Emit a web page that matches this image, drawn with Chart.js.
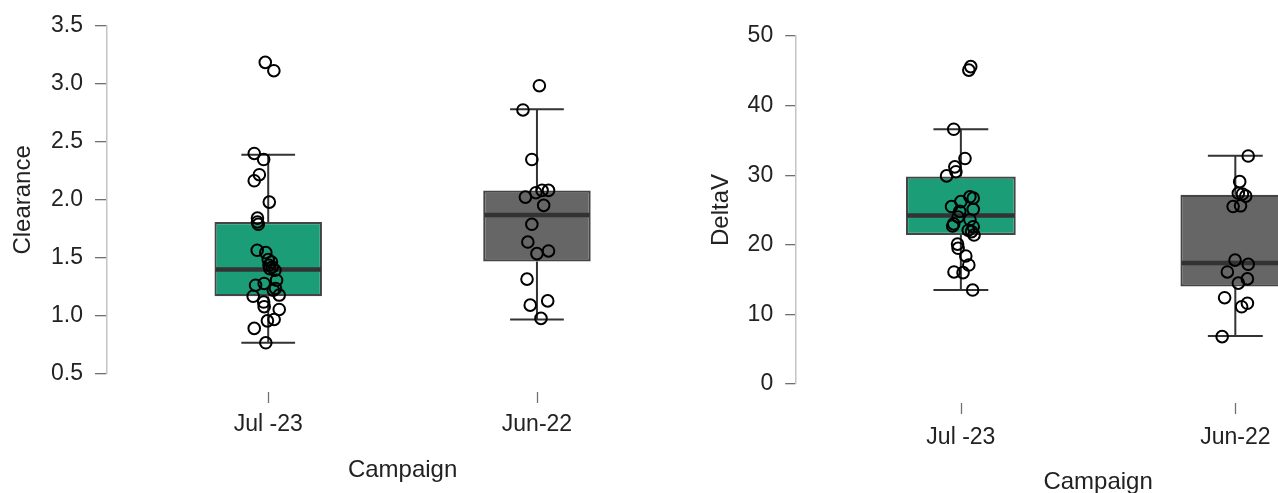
<!DOCTYPE html>
<html>
<head>
<meta charset="utf-8">
<script src="https://cdn.jsdelivr.net/npm/chart.js@4/dist/chart.umd.min.js"></script>
<style>
  html, body { margin: 0; padding: 0; background: #fff; width: 1278px; height: 493px; overflow: hidden; }
  .panel { position: absolute; top: 0; }
  #leftPanel { left: 0; }
  #rightPanel { left: 700px; }
</style>
</head>
<body>
<div class="panel" id="leftPanel"><canvas id="clearanceChart" width="706" height="493"></canvas></div>
<div class="panel" id="rightPanel"><canvas id="deltaVChart" width="714" height="500"></canvas></div>
<script>
// Campaign groups
const categories = ['Jul -23', 'Jun-22'];
const boxFill = ['#1b9e77', '#666666'];

// Clearance: box-plot summary per campaign
const clearanceLow    = [0.77, 0.97];
const clearanceQ1     = [1.17, 1.47];
const clearanceMedian = [1.40, 1.87];
const clearanceQ3     = [1.81, 2.08];
const clearanceHigh   = [2.39, 2.78];

// Clearance: individual observations and their horizontal jitter
const clearanceJul = [3.185, 3.113, 2.40, 2.348, 2.217, 2.165, 1.981, 1.843, 1.81, 1.79, 1.566, 1.546,
  1.486, 1.465, 1.437, 1.422, 1.408, 1.394, 1.308, 1.265, 1.28, 1.237, 1.222, 1.17, 1.18, 1.12, 1.08,
  1.056, 0.97, 0.958, 0.893, 0.769];
const clearanceJulJitter = [-0.011, 0.021, -0.052, -0.017, -0.033, -0.052, 0.004, -0.04, -0.04, -0.037, -0.041, -0.009,
  0, 0.012, 0.003, 0.015, 0.006, 0.025, 0.031, -0.047, -0.015, 0.027, 0.019, -0.056, 0.041, -0.017, -0.015,
  0.041, 0.022, -0.003, -0.052, -0.009];
const clearanceJun = [2.984, 2.775, 2.348, 2.062, 2.082, 2.082, 2.024, 1.953, 1.79, 1.637, 1.56, 1.537,
  1.317, 1.13, 1.093, 0.979];
const clearanceJunJitter = [0.009, -0.052, -0.019, -0.004, 0.019, 0.043, -0.043, 0.025, -0.019, -0.034, 0.043, 0,
  -0.037, 0.040, -0.025, 0.015];

// DeltaV: box-plot summary per campaign
const deltaVLow    = [13.5, 6.9];
const deltaVQ1     = [21.4, 14.0];
const deltaVMedian = [24.2, 17.4];
const deltaVQ3     = [29.8, 27.2];
const deltaVHigh   = [36.6, 32.8];

// DeltaV: individual observations and their horizontal jitter
const deltaVJul = [45.6, 45.1, 36.6, 32.4, 31.2, 30.5, 29.9, 26.9, 26.7, 26.2, 25.5, 25.1, 24.8, 24.0,
  23.6, 23.0, 22.7, 22.6, 22.1, 21.9, 21.4, 20.1, 19.5, 18.4, 17.1, 16.1, 16.0, 13.5];
const deltaVJulJitter = [0.036, 0.029, -0.026, 0.015, -0.022, -0.018, -0.052, 0.033, 0.045, 0, -0.034, 0.045, -0.004, -0.01,
  0.033, -0.026, -0.03, 0.045, 0.027, 0.039, 0.048, -0.012, -0.01, 0.018, 0.029, -0.025, 0.008, 0.043];
const deltaVJun = [32.76, 29.07, 27.4, 27.3, 27.0, 25.5, 25.6, 17.8, 17.2, 16.1, 15.1, 14.5, 12.4, 11.6, 11.1, 6.8];
const deltaVJunJitter = [0.047, 0.016, 0.011, 0.026, 0.038, -0.008, 0.019, -0.001, 0.047, -0.029, 0.044, 0.011, -0.039, 0.044, 0.023, -0.048];

// Axis ticks
const clearanceTicks = [0.5, 1.0, 1.5, 2.0, 2.5, 3.0, 3.5];
const deltaVTicks = [0, 10, 20, 30, 40, 50];

const FONT = 'Liberation Sans, Arial, Helvetica, sans-serif';
const TEXT = '#222222';
const AXIS_LINE = '#c4c4c4';
const TICK_MARK = '#707070';
const INK = '#333333';
Chart.defaults.font.family = FONT;
Chart.defaults.color = TEXT;

// Whiskers, caps, median lines and the x tick marks of each box plot
const boxParts = {
  id: 'boxParts',
  beforeDatasetsDraw(chart, args, opts) {
    const { x, y } = chart.scales;
    const ctx = chart.ctx;
    ctx.save();
    ctx.strokeStyle = INK;
    ctx.lineWidth = 2;
    opts.low.forEach((lo, i) => {
      const cx = x.getPixelForValue(i + 1);
      const half = x.getPixelForValue(i + 1 + opts.capHalf) - cx;
      ctx.beginPath();
      ctx.moveTo(cx, y.getPixelForValue(lo));
      ctx.lineTo(cx, y.getPixelForValue(opts.q1[i]));
      ctx.moveTo(cx, y.getPixelForValue(opts.q3[i]));
      ctx.lineTo(cx, y.getPixelForValue(opts.high[i]));
      [lo, opts.high[i]].forEach(v => {
        const py = y.getPixelForValue(v);
        ctx.moveTo(cx - half, py);
        ctx.lineTo(cx + half, py);
      });
      ctx.stroke();
    });
    ctx.restore();
  },
  afterDatasetDraw(chart, args, opts) {
    if (args.meta.type !== 'bar') return;
    const { y } = chart.scales;
    const ctx = chart.ctx;
    ctx.save();
    ctx.strokeStyle = INK;
    ctx.lineWidth = 4.5;
    opts.median.forEach((m, i) => {
      const el = args.meta.data[i];
      const py = y.getPixelForValue(m);
      ctx.beginPath();
      ctx.moveTo(el.x - el.width / 2 + 1, py);
      ctx.lineTo(el.x + el.width / 2 - 1, py);
      ctx.stroke();
    });
    ctx.restore();
  },
  afterDraw(chart, args, opts) {
    const { x } = chart.scales;
    const ctx = chart.ctx;
    const bottom = chart.chartArea.bottom;
    ctx.save();
    ctx.strokeStyle = TICK_MARK;
    ctx.lineWidth = 1.3;
    categories.forEach((c, i) => {
      const px = Math.round(x.getPixelForValue(i + 1)) + 0.5;
      ctx.beginPath();
      ctx.moveTo(px, bottom + opts.tickGap);
      ctx.lineTo(px, bottom + opts.tickGap + opts.tickLen);
      ctx.stroke();
    });
    ctx.restore();
  }
};

function jittered(groups, jitters) {
  const pts = [];
  groups.forEach((vals, i) => vals.forEach((v, j) => pts.push({ x: i + 1 + jitters[i][j], y: v })));
  return pts;
}

function boxChart(id, s) {
  return new Chart(document.getElementById(id), {
    type: 'bar',
    data: {
      datasets: [
        {
          type: 'scatter',
          data: jittered(s.points, s.jitter),
          order: 0,
          pointStyle: 'circle',
          pointRadius: 5.8,
          pointHoverRadius: 5.8,
          borderColor: '#000',
          borderWidth: 2,
          backgroundColor: 'rgba(0,0,0,0)'
        },
        {
          type: 'bar',
          data: categories.map((c, i) => ({ x: i + 1, y: [s.q1[i], s.q3[i]] })),
          order: 1,
          backgroundColor: boxFill,
          borderColor: '#444444',
          borderWidth: 2.2,
          borderSkipped: false,
          barPercentage: 0.4,
          categoryPercentage: 1
        }
      ]
    },
    options: {
      responsive: false,
      animation: false,
      events: [],
      layout: { padding: s.padding },
      plugins: {
        legend: { display: false },
        tooltip: { enabled: false },
        boxParts: {
          low: s.low, q1: s.q1, median: s.median, q3: s.q3, high: s.high,
          capHalf: 0.1, tickGap: s.tickGap, tickLen: 11
        }
      },
      scales: {
        x: {
          type: 'linear',
          offset: false,
          min: 0.4,
          max: 2.6,
          afterBuildTicks: ax => { ax.ticks = categories.map((c, i) => ({ value: i + 1 })); },
          grid: { display: false, tickLength: s.xTickSpace },
          border: { display: false },
          ticks: {
            padding: 4,
            autoSkip: false,
            maxRotation: 0,
            font: { size: 23 },
            color: TEXT,
            callback: v => categories[Math.round(v) - 1]
          },
          title: {
            display: true,
            text: 'Campaign',
            font: { size: 24 },
            color: TEXT,
            padding: { top: s.xTitlePad, bottom: 0 }
          }
        },
        y: {
          type: 'linear',
          min: s.yTicks[0],
          max: s.yTicks[s.yTicks.length - 1],
          afterBuildTicks: ax => { ax.ticks = s.yTicks.map(v => ({ value: v })); },
          grid: { drawOnChartArea: false, drawTicks: true, tickLength: s.yTickLen, tickColor: TICK_MARK, color: AXIS_LINE, lineWidth: 1.3 },
          border: { display: true, color: AXIS_LINE, width: 1.5 },
          ticks: {
            padding: 12,
            font: { size: 23 },
            color: TEXT,
            callback: s.yFormat
          },
          title: {
            display: true,
            text: s.yTitle,
            font: { size: 24 },
            color: TEXT,
            padding: { top: 0, bottom: s.yTitlePad }
          }
        }
      }
    },
    plugins: [boxParts]
  });
}

boxChart('clearanceChart', {
  points: [clearanceJul, clearanceJun],
  jitter: [clearanceJulJitter, clearanceJunJitter],
  low: clearanceLow, q1: clearanceQ1, median: clearanceMedian, q3: clearanceQ3, high: clearanceHigh,
  yTicks: clearanceTicks,
  yFormat: v => v.toFixed(1),
  yTitle: 'Clearance',
  yTitlePad: 1.6,
  yTickLen: 12,
  xTickSpace: 33,
  xTitlePad: 13,
  tickGap: 18,
  padding: { top: 25, left: 8.6, right: 4, bottom: 8.6 }
});

boxChart('deltaVChart', {
  points: [deltaVJul, deltaVJun],
  jitter: [deltaVJulJitter, deltaVJunJitter],
  low: deltaVLow, q1: deltaVQ1, median: deltaVMedian, q3: deltaVQ3, high: deltaVHigh,
  yTicks: deltaVTicks,
  yFormat: v => String(v),
  yTitle: 'DeltaV',
  yTitlePad: 0.2,
  yTickLen: 11,
  xTickSpace: 36.2,
  xTitlePad: 11.8,
  tickGap: 19,
  padding: { top: 36, left: 6.6, right: 14, bottom: 3.6 }
});
</script>
</body>
</html>
